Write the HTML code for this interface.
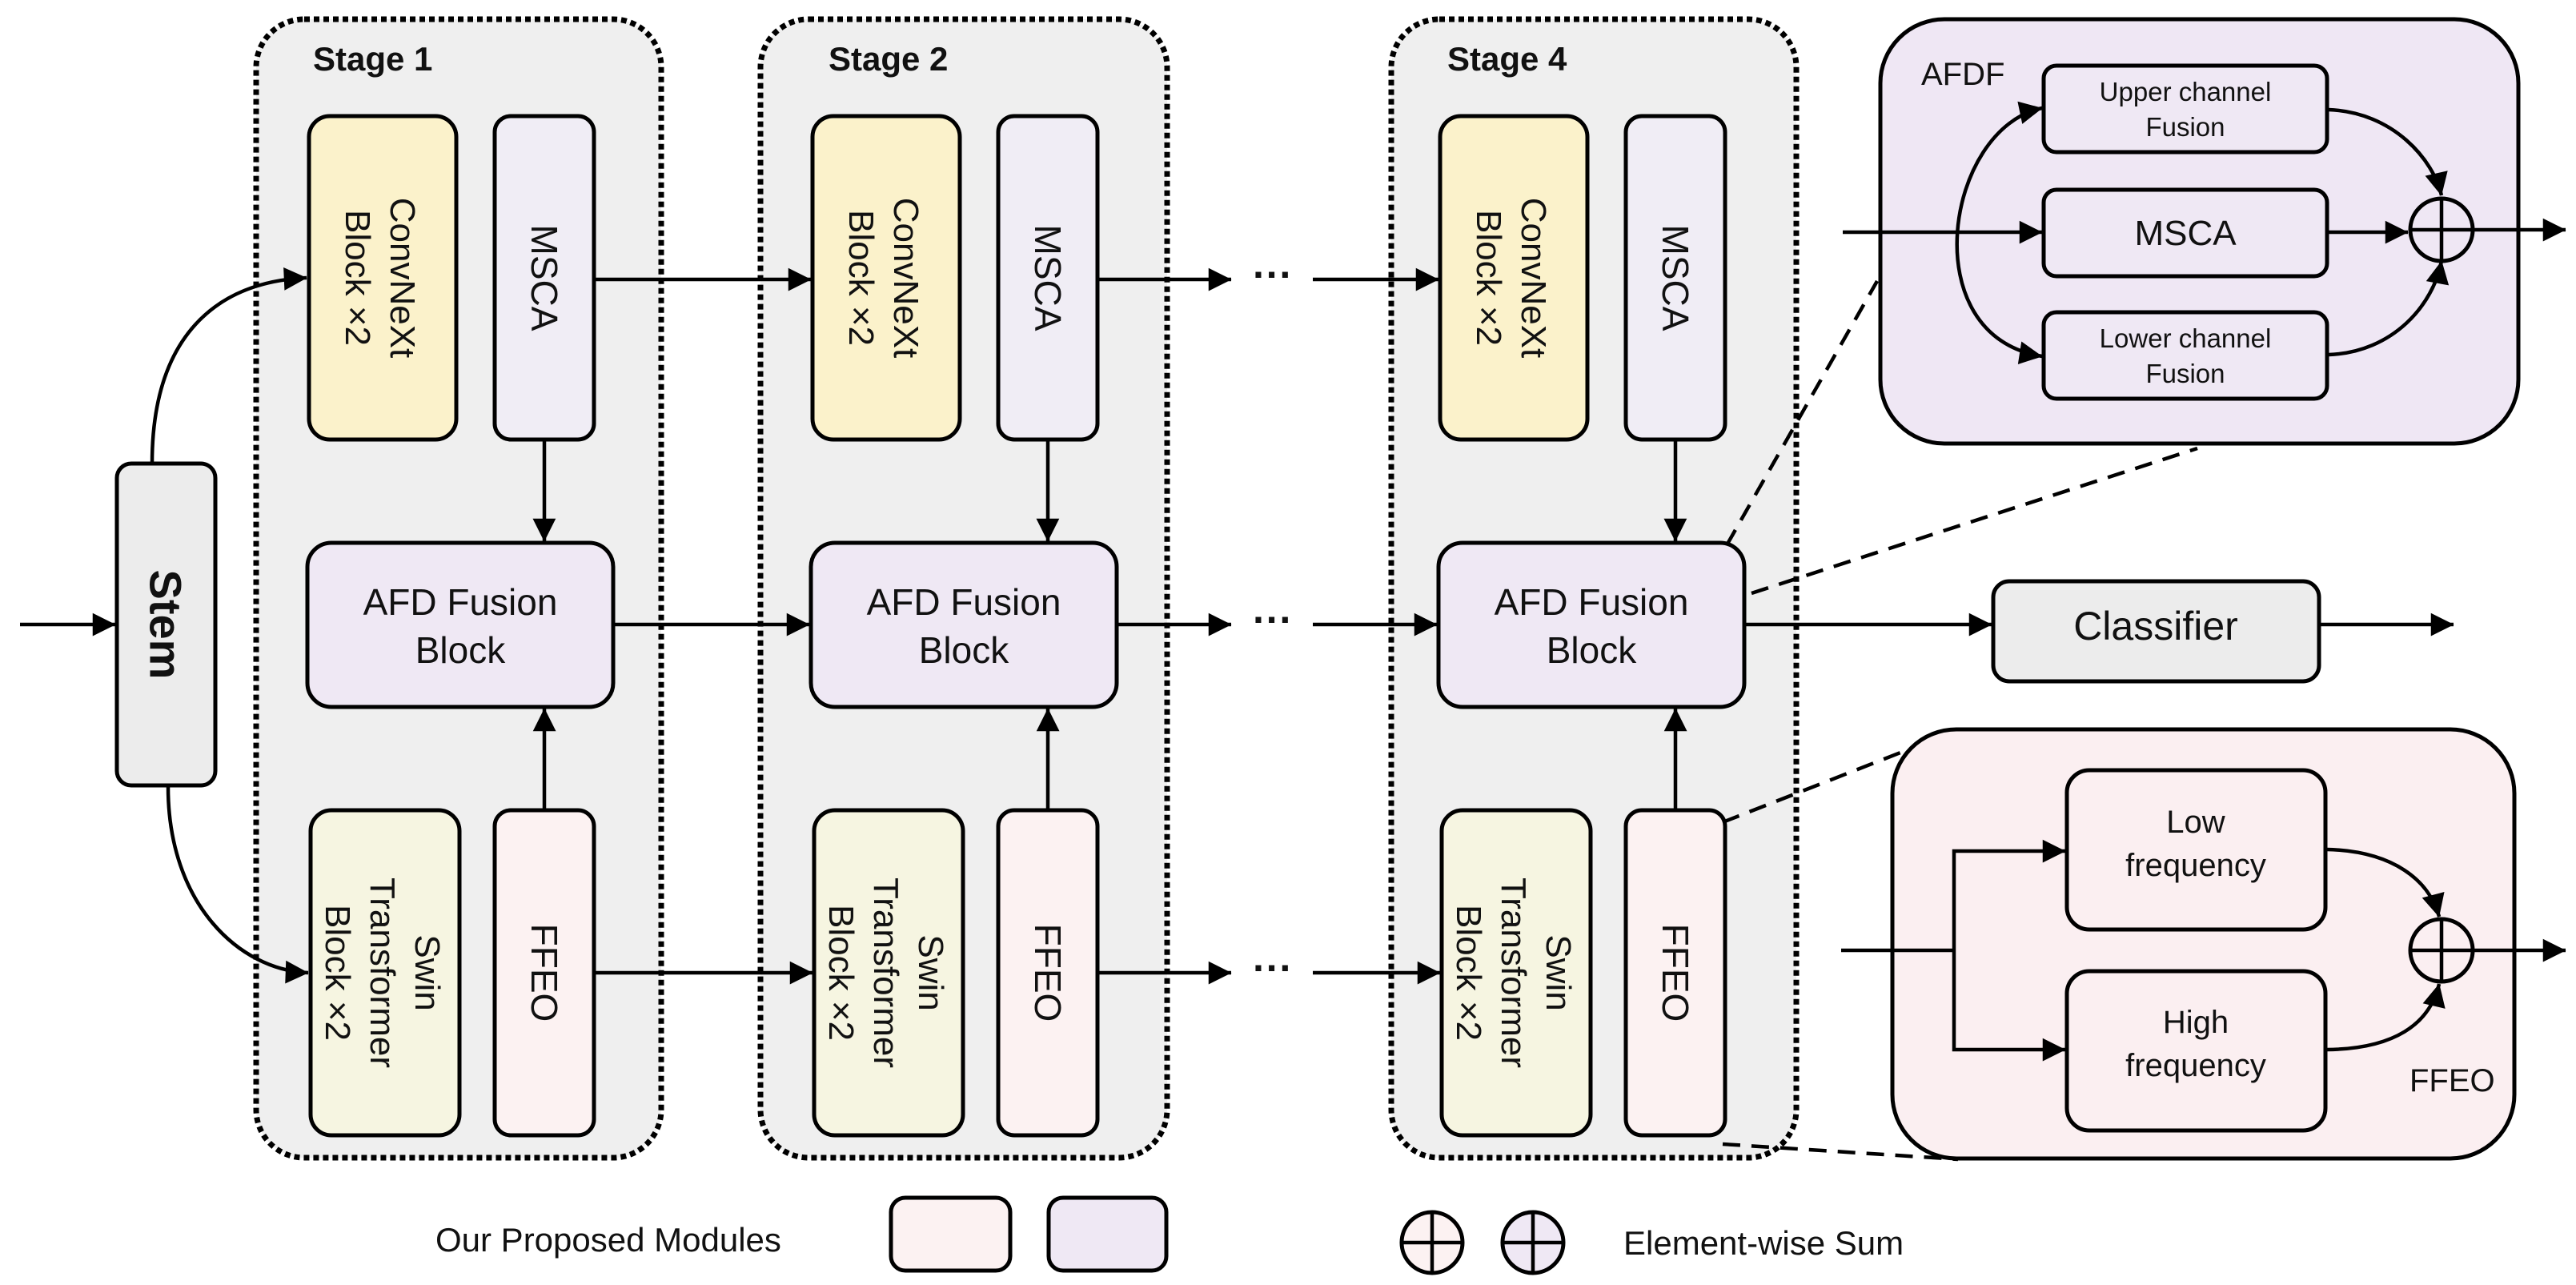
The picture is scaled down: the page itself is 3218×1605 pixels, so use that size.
<!DOCTYPE html>
<html><head><meta charset="utf-8"><style>
html,body{margin:0;padding:0;background:#fff;}
svg{display:block;}
text{font-family:"Liberation Sans","DejaVu Sans",sans-serif;fill:#111;}
</style></head><body>
<svg width="3218" height="1605" viewBox="0 0 3218 1605" xmlns="http://www.w3.org/2000/svg">
<defs>
<marker id="a" viewBox="0 0 10 10" refX="9" refY="5" markerWidth="9" markerHeight="9" markerUnits="userSpaceOnUse" orient="auto-start-reverse" overflow="visible">
<path d="M0,0 L10,5 L0,10 z" fill="#000" transform="scale(3.2) translate(-7,-3.4)"/>
</marker>
</defs>
<style>
.c{fill:#efefef;stroke:#000;stroke-width:7;stroke-dasharray:7 5;}
.b{stroke:#000;stroke-width:5;}
.l{stroke:#000;stroke-width:4.5;fill:none;}
.d{stroke:#000;stroke-width:4.5;fill:none;stroke-dasharray:22 14;}
</style>

<rect class="c" x="320" y="24" width="506" height="1422" rx="60"/>
<rect class="c" x="950" y="24" width="508" height="1422" rx="60"/>
<rect class="c" x="1738" y="24" width="506" height="1422" rx="60"/>
<text x="391" y="88" font-size="42" font-weight="bold">Stage 1</text>
<text x="1035" y="88" font-size="42" font-weight="bold">Stage 2</text>
<text x="1808" y="88" font-size="42" font-weight="bold">Stage 4</text>

<rect class="b" x="146" y="579" width="123" height="402" rx="18" fill="#ececec"/>
<text transform="translate(207,780) rotate(90)" font-size="56" font-weight="bold" text-anchor="middle" dominant-baseline="central">Stem</text>
<line class="l" x1="25" y1="780" x2="144" y2="780" marker-end="url(#a)"/>
<path class="l" d="M190,579 C190,420 270,352 383,347" marker-end="url(#a)"/>
<path class="l" d="M210,983 C210,1130 300,1212 385,1215" marker-end="url(#a)"/>

<g id="s1">
<rect class="b" x="386" y="145" width="184" height="404" rx="26" fill="#fbf2cb"/>
<text transform="translate(478,347) rotate(90)" font-size="44" text-anchor="middle"><tspan x="0" dy="-10">ConvNeXt</tspan><tspan x="0" dy="56">Block  ×2</tspan></text>
<rect class="b" x="618" y="145" width="124" height="404" rx="20" fill="#f0edf5"/>
<text transform="translate(680,347) rotate(90)" font-size="46" text-anchor="middle" dominant-baseline="central">MSCA</text>
<rect class="b" x="384" y="678" width="382" height="205" rx="30" fill="#efe8f4"/>
<text x="575" y="768" font-size="46" text-anchor="middle">AFD Fusion</text>
<text x="575" y="828" font-size="46" text-anchor="middle">Block</text>
<rect class="b" x="388" y="1012" width="186" height="406" rx="26" fill="#f6f5e1"/>
<text transform="translate(481,1215) rotate(90)" font-size="44" text-anchor="middle"><tspan x="0" dy="-38">Swin</tspan><tspan x="0" dy="56">Transformer</tspan><tspan x="0" dy="56">Block  ×2</tspan></text>
<rect class="b" x="618" y="1012" width="124" height="406" rx="20" fill="#fcf2f2"/>
<text transform="translate(680,1215) rotate(90)" font-size="46" text-anchor="middle" dominant-baseline="central">FFEO</text>
<line class="l" x1="680" y1="551" x2="680" y2="676" marker-end="url(#a)"/>
<line class="l" x1="680" y1="1010" x2="680" y2="885" marker-end="url(#a)"/>
</g>
<use href="#s1" x="629" y="0"/>
<use href="#s1" x="1413" y="0"/>

<line class="l" x1="744" y1="349" x2="1013" y2="349" marker-end="url(#a)"/>
<line class="l" x1="768" y1="780" x2="1011" y2="780" marker-end="url(#a)"/>
<line class="l" x1="744" y1="1215" x2="1015" y2="1215" marker-end="url(#a)"/>
<line class="l" x1="1373" y1="349" x2="1538" y2="349" marker-end="url(#a)"/>
<line class="l" x1="1397" y1="780" x2="1538" y2="780" marker-end="url(#a)"/>
<line class="l" x1="1373" y1="1215" x2="1538" y2="1215" marker-end="url(#a)"/>
<text x="1590" y="360" font-size="50" font-weight="bold" text-anchor="middle">···</text>
<text x="1590" y="791" font-size="50" font-weight="bold" text-anchor="middle">···</text>
<text x="1590" y="1226" font-size="50" font-weight="bold" text-anchor="middle">···</text>
<line class="l" x1="1640" y1="349" x2="1797" y2="349" marker-end="url(#a)"/>
<line class="l" x1="1640" y1="780" x2="1795" y2="780" marker-end="url(#a)"/>
<line class="l" x1="1640" y1="1215" x2="1799" y2="1215" marker-end="url(#a)"/>

<line class="l" x1="2181" y1="780" x2="2488" y2="780" marker-end="url(#a)"/>
<rect class="b" x="2490" y="726" width="407" height="125" rx="20" fill="#ececec"/>
<text x="2693" y="799" font-size="50" text-anchor="middle">Classifier</text>
<line class="l" x1="2899" y1="780" x2="3065" y2="780" marker-end="url(#a)"/>

<line class="d" x1="2157" y1="681" x2="2345" y2="351"/>
<line class="d" x1="2188" y1="741" x2="2745" y2="560"/>
<line class="d" x1="2152" y1="1027" x2="2415" y2="924"/>
<line class="d" x1="2152" y1="1429" x2="2446" y2="1448"/>

<rect class="b" x="2349" y="24" width="797" height="530" rx="80" fill="#efe7f4"/>
<text x="2400" y="106" font-size="40">AFDF</text>
<rect class="b" x="2553" y="82" width="354" height="108" rx="16" fill="#efe8f4"/>
<text x="2730" y="126" font-size="33" text-anchor="middle">Upper channel</text>
<text x="2730" y="170" font-size="33" text-anchor="middle">Fusion</text>
<rect class="b" x="2553" y="237" width="354" height="108" rx="16" fill="#efe8f4"/>
<text x="2730" y="306" font-size="44" text-anchor="middle">MSCA</text>
<rect class="b" x="2553" y="390" width="354" height="108" rx="16" fill="#efe8f4"/>
<text x="2730" y="434" font-size="33" text-anchor="middle">Lower channel</text>
<text x="2730" y="478" font-size="33" text-anchor="middle">Fusion</text>
<line class="l" x1="2302" y1="290" x2="2551" y2="290" marker-end="url(#a)"/>
<path class="l" d="M2551,135 C2430,160 2390,420 2551,445" marker-start="url(#a)" marker-end="url(#a)"/>
<line class="l" x1="2909" y1="290" x2="3008" y2="290" marker-end="url(#a)"/>
<path class="l" d="M2909,137 C2990,140 3040,200 3050,244" marker-end="url(#a)"/>
<path class="l" d="M2909,443 C2990,440 3040,380 3050,326" marker-end="url(#a)"/>
<circle cx="3050" cy="287" r="39" fill="none" stroke="#000" stroke-width="5"/>
<line class="l" x1="3050" y1="248" x2="3050" y2="326"/>
<line class="l" x1="3011" y1="287" x2="3205" y2="287" marker-end="url(#a)"/>

<rect class="b" x="2364" y="911" width="777" height="536" rx="80" fill="#fbeff1"/>
<rect class="b" x="2582" y="962" width="323" height="199" rx="28" fill="#fbeff1"/>
<text x="2743" y="1040" font-size="40" text-anchor="middle">Low</text>
<text x="2743" y="1094" font-size="40" text-anchor="middle">frequency</text>
<rect class="b" x="2582" y="1213" width="323" height="199" rx="28" fill="#fbeff1"/>
<text x="2743" y="1290" font-size="40" text-anchor="middle">High</text>
<text x="2743" y="1344" font-size="40" text-anchor="middle">frequency</text>
<text x="3010" y="1363" font-size="40">FFEO</text>
<line class="l" x1="2300" y1="1187" x2="2441" y2="1187"/>
<polyline class="l" points="2580,1063 2441,1063 2441,1311 2580,1311" marker-start="url(#a)" marker-end="url(#a)"/>
<path class="l" d="M2907,1061 C2990,1063 3035,1100 3047,1145" marker-end="url(#a)"/>
<path class="l" d="M2907,1311 C2990,1310 3035,1280 3047,1229" marker-end="url(#a)"/>
<circle cx="3050" cy="1187" r="39" fill="none" stroke="#000" stroke-width="5"/>
<line class="l" x1="3050" y1="1148" x2="3050" y2="1226"/>
<line class="l" x1="3011" y1="1187" x2="3205" y2="1187" marker-end="url(#a)"/>

<text x="544" y="1563" font-size="42">Our Proposed Modules</text>
<rect class="b" x="1113" y="1496" width="149" height="91" rx="18" fill="#fcf2f2"/>
<rect class="b" x="1310" y="1496" width="147" height="91" rx="18" fill="#efe8f4"/>
<circle cx="1789" cy="1552" r="38" fill="#fcf2f2" stroke="#000" stroke-width="5"/>
<line class="l" x1="1751" y1="1552" x2="1827" y2="1552"/><line class="l" x1="1789" y1="1514" x2="1789" y2="1590"/>
<circle cx="1915" cy="1552" r="38" fill="#efe8f4" stroke="#000" stroke-width="5"/>
<line class="l" x1="1877" y1="1552" x2="1953" y2="1552"/><line class="l" x1="1915" y1="1514" x2="1915" y2="1590"/>
<text x="2028" y="1567" font-size="42">Element-wise Sum</text>
</svg>
</body></html>
